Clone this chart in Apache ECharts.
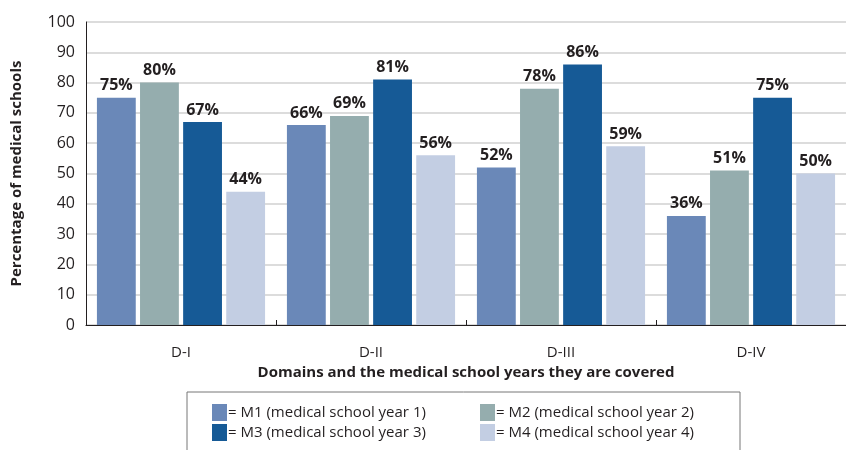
<!DOCTYPE html>
<html style="height: 100%">
<head>
<meta charset="utf-8">
</head>
<body style="height: 100%; margin: 0; background: #fff">
<div id="container" style="width: 846px; height: 450px"></div>
<script type="text/javascript" src="https://cdn.jsdelivr.net/npm/echarts@6/dist/echarts.min.js"></script>
<script type="text/javascript">
var domains = ['D-I', 'D-II', 'D-III', 'D-IV'];
var seriesNames = ['M1 (medical school year 1)', 'M2 (medical school year 2)', 'M3 (medical school year 3)', 'M4 (medical school year 4)'];
var m1 = [75, 66, 52, 36];
var m2 = [80, 69, 78, 51];
var m3 = [67, 81, 86, 75];
var m4 = [44, 56, 59, 50];
var colors = ['#6a88b8', '#95adae', '#165a96', '#c3cee3'];

var font = '"Open Sans", sans-serif';
var dom = document.getElementById('container');
var myChart = echarts.init(dom);

function makeSeries(name, values, color) {
    return {
        name: name,
        type: 'bar',
        data: values,
        barGap: '11%',
        barCategoryGap: '11.5%',
        itemStyle: { color: color },
        label: {
            show: true,
            position: 'top',
            distance: 4,
            formatter: '{c}%',
            color: '#231f20',
            fontFamily: font,
            fontWeight: 'bold',
            fontSize: 16
        }
    };
}

// one legend per entry so they sit in a 2x2 block
var legendPos = [[212, 404], [480, 404], [212, 424], [480, 424]];
var legends = seriesNames.map(function (n, i) {
    return {
        left: legendPos[i][0], top: legendPos[i][1],
        padding: 0,
        icon: 'rect',
        itemWidth: 15, itemHeight: 17,
        data: [n],
        formatter: function (s) { return '= ' + s; },
        textStyle: { fontFamily: font, fontSize: 15, color: '#231f20', padding: [0, 0, 0, -4] }
    };
});

var option = {
    animation: false,
    textStyle: { fontFamily: font },
    grid: { left: 86, right: -6, top: 22, bottom: 125 },
    graphic: [{
        type: 'rect',
        shape: { x: 187, y: 392, width: 553, height: 70 },
        style: { fill: 'none', stroke: '#777', lineWidth: 1 }
    }],
    legend: legends,
    xAxis: {
        type: 'category',
        data: domains,
        name: 'Domains and the medical school years they are covered',
        nameLocation: 'middle',
        nameGap: 38,
        nameTextStyle: { fontFamily: font, fontWeight: 'bold', fontSize: 15, color: '#231f20' },
        axisLine: { lineStyle: { color: '#231f20', width: 1 } },
        axisTick: { show: true, inside: true, length: 5, lineStyle: { color: '#231f20' } },
        axisLabel: { fontFamily: font, fontSize: 15, color: '#231f20', margin: 20 }
    },
    yAxis: {
        type: 'value',
        min: 0, max: 100, interval: 10,
        name: 'Percentage of medical schools',
        nameLocation: 'middle',
        nameGap: 62,
        nameRotate: 90,
        nameTextStyle: { fontFamily: font, fontWeight: 'bold', fontSize: 15, color: '#231f20' },
        axisLine: { show: true, lineStyle: { color: '#231f20', width: 1 } },
        axisTick: { show: false },
        axisLabel: { fontFamily: font, fontSize: 16, color: '#231f20', margin: 11 },
        splitLine: { lineStyle: { color: '#d0d0d0', width: 1.5 } }
    },
    series: [
        makeSeries(seriesNames[0], m1, colors[0]),
        makeSeries(seriesNames[1], m2, colors[1]),
        makeSeries(seriesNames[2], m3, colors[2]),
        makeSeries(seriesNames[3], m4, colors[3])
    ]
};
myChart.setOption(option);
</script>
</body>
</html>
